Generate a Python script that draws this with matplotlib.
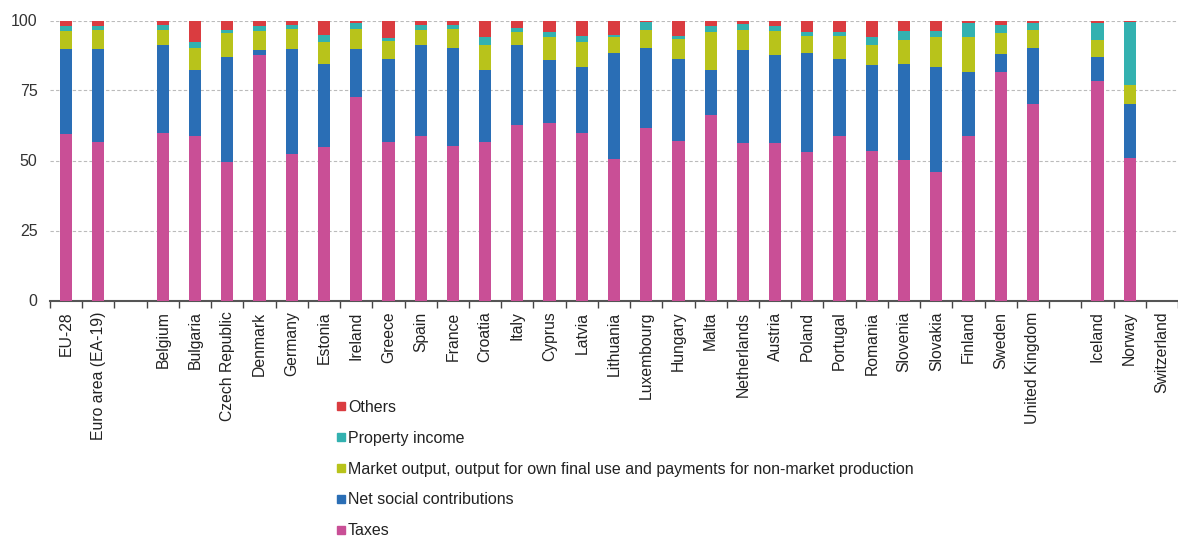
import matplotlib
matplotlib.use("Agg")
import matplotlib.pyplot as plt
from matplotlib.lines import Line2D
import numpy as np

plt.rcParams['font.family'] = ['Liberation Sans', 'DejaVu Sans']

categories = ["EU-28", "Euro area (EA-19)", "",
              "Belgium", "Bulgaria", "Czech Republic", "Denmark", "Germany", "Estonia",
              "Ireland", "Greece", "Spain", "France", "Croatia", "Italy", "Cyprus",
              "Latvia", "Lithuania", "Luxembourg", "Hungary", "Malta", "Netherlands",
              "Austria", "Poland", "Portugal", "Romania", "Slovenia", "Slovakia",
              "Finland", "Sweden", "United Kingdom", "",
              "Iceland", "Norway", "Switzerland"]

nan = np.nan
taxes = [59.6, 56.5, nan,
         60.0, 58.8, 49.6, 87.6, 52.2, 54.8, 72.8, 56.5, 58.8, 55.3, 56.5, 62.6, 63.4,
         60.0, 50.4, 61.7, 57.0, 66.4, 56.1, 56.1, 53.2, 58.8, 53.5, 50.1, 45.8,
         58.8, 81.6, 70.3, nan,
         78.5, 50.9, nan]
social = [30.1, 33.2, nan,
          31.1, 23.6, 37.5, 1.7, 37.5, 29.8, 16.9, 29.8, 32.3, 34.8, 26.0, 28.5, 22.4,
          23.3, 38.0, 28.4, 29.3, 16.1, 33.2, 31.5, 35.2, 27.5, 30.6, 34.5, 37.5,
          22.8, 6.5, 19.9, nan,
          8.3, 19.4, nan]
market = [6.5, 7.0, nan,
          5.6, 7.7, 8.4, 6.9, 7.3, 7.7, 7.3, 6.4, 5.6, 6.9, 8.6, 4.7, 8.2,
          9.1, 5.6, 6.6, 7.1, 13.3, 7.4, 8.6, 6.2, 8.3, 7.0, 8.6, 10.7,
          12.4, 7.3, 6.5, nan,
          6.4, 6.8, nan]
property_income = [1.7, 1.2, nan,
                   1.8, 2.2, 1.2, 1.7, 1.5, 2.6, 2.2, 0.9, 1.8, 1.5, 3.1, 1.7, 1.8,
                   2.1, 1.0, 2.9, 1.1, 2.2, 2.0, 1.7, 1.2, 1.2, 2.9, 3.0, 2.2,
                   5.2, 3.1, 2.5, nan,
                   6.0, 22.5, nan]
others = [2.1, 2.1, nan,
          1.5, 7.7, 3.3, 2.1, 1.5, 5.1, 0.8, 6.4, 1.5, 1.5, 5.8, 2.5, 4.2,
          5.5, 5.0, 0.4, 5.5, 2.0, 1.3, 2.1, 4.2, 4.2, 6.0, 3.8, 3.8,
          0.8, 1.5, 0.8, nan,
          0.8, 0.4, nan]

series = [
    ("Taxes", taxes, "#C94F96"),
    ("Net social contributions", social, "#2A6EB5"),
    ("Market output, output for own final use and payments for non-market production", market, "#B8C31B"),
    ("Property income", property_income, "#33B1B0"),
    ("Others", others, "#DA3C40"),
]

W, H = 1178, 539
fig = plt.figure(figsize=(W / 100, H / 100), dpi=100)
left = 50 / W
right = 1.0
bottom = (H - 300.5) / H
top = (H - 20.5) / H
ax = fig.add_axes([left, bottom, right - left, top - bottom])

x = np.arange(len(categories))
base = np.zeros(len(categories))
handles = []
for name, vals, col in series:
    v = np.array(vals, dtype=float)
    ax.bar(x, np.nan_to_num(v), bottom=base, width=0.38, color=col,
           edgecolor='none', zorder=3)
    base = base + np.nan_to_num(v)
    handles.append(Line2D([], [], marker='s', markersize=5.2, linestyle='none',
                          color=col, label=name))

slot_px = 32.57
ax.set_xlim(-0.5, -0.5 + (W - 50) / slot_px)
ax.set_ylim(0, 100)
ax.set_yticks([0, 25, 50, 75, 100])
ax.tick_params(axis='y', length=0, labelsize=11.5, colors='#333333', pad=9)
ax.yaxis.grid(True, linestyle=(0, (3, 2)), color='#bbbbbb', linewidth=0.8, zorder=0)

ax.set_xticks(np.arange(-0.5, len(categories) + 0.5, 1.0), minor=False)
ax.set_xticklabels([])
ax.set_xticks(x, minor=True)
ax.set_xticklabels(categories, minor=True, rotation=90, fontsize=11.3, color='#222222')
ax.tick_params(axis='x', which='major', length=5, width=1, colors='#444444', direction='out')
ax.tick_params(axis='x', which='minor', length=0, pad=8)

for s in ['top', 'right', 'left']:
    ax.spines[s].set_visible(False)
ax.spines['bottom'].set_color('#555555')
ax.spines['bottom'].set_linewidth(1.5)

fig.legend(handles=handles[::-1], loc='upper left',
           bbox_to_anchor=(336 / W, 1 - 400 / H), frameon=False,
           fontsize=11.5, labelspacing=0.99, handlelength=0.6,
           handletextpad=0.15, borderpad=0, borderaxespad=0,
           labelcolor='#222222')

fig.savefig("out.png", dpi=100)
